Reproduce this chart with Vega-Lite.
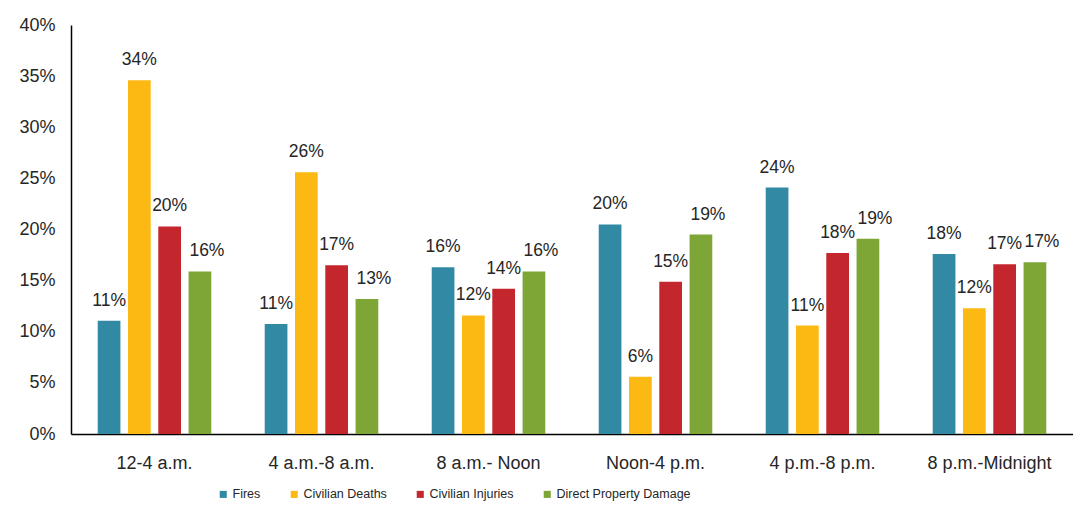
{
  "$schema": "https://vega.github.io/schema/vega-lite/v6.json",
  "autosize": {"type": "none"},
  "width": 1002,
  "height": 409,
  "padding": {"left": 71, "top": 25, "right": 0, "bottom": 72},
  "background": "white",
  "config": {
    "view": {"stroke": null},
    "font": "Liberation Sans",
    "axis": {"labelFont": "Liberation Sans", "labelColor": "#262626", "grid": false, "ticks": false, "domainColor": "#000000", "domainWidth": 1.5, "title": null}
  },
  "data": {
    "values": [
      {"period": "12-4 a.m.", "series": "Fires", "value": 0.1108, "label": "11%"},
      {"period": "12-4 a.m.", "series": "Civilian Deaths", "value": 0.346, "label": "34%"},
      {"period": "12-4 a.m.", "series": "Civilian Injuries", "value": 0.203, "label": "20%"},
      {"period": "12-4 a.m.", "series": "Direct Property Damage", "value": 0.159, "label": "16%"},
      {"period": "4 a.m.-8 a.m.", "series": "Fires", "value": 0.1076, "label": "11%"},
      {"period": "4 a.m.-8 a.m.", "series": "Civilian Deaths", "value": 0.256, "label": "26%"},
      {"period": "4 a.m.-8 a.m.", "series": "Civilian Injuries", "value": 0.165, "label": "17%"},
      {"period": "4 a.m.-8 a.m.", "series": "Direct Property Damage", "value": 0.132, "label": "13%"},
      {"period": "8 a.m.- Noon", "series": "Fires", "value": 0.163, "label": "16%"},
      {"period": "8 a.m.- Noon", "series": "Civilian Deaths", "value": 0.116, "label": "12%"},
      {"period": "8 a.m.- Noon", "series": "Civilian Injuries", "value": 0.142, "label": "14%"},
      {"period": "8 a.m.- Noon", "series": "Direct Property Damage", "value": 0.159, "label": "16%"},
      {"period": "Noon-4 p.m.", "series": "Fires", "value": 0.205, "label": "20%"},
      {"period": "Noon-4 p.m.", "series": "Civilian Deaths", "value": 0.056, "label": "6%"},
      {"period": "Noon-4 p.m.", "series": "Civilian Injuries", "value": 0.149, "label": "15%"},
      {"period": "Noon-4 p.m.", "series": "Direct Property Damage", "value": 0.195, "label": "19%"},
      {"period": "4 p.m.-8 p.m.", "series": "Fires", "value": 0.241, "label": "24%"},
      {"period": "4 p.m.-8 p.m.", "series": "Civilian Deaths", "value": 0.106, "label": "11%"},
      {"period": "4 p.m.-8 p.m.", "series": "Civilian Injuries", "value": 0.177, "label": "18%"},
      {"period": "4 p.m.-8 p.m.", "series": "Direct Property Damage", "value": 0.191, "label": "19%"},
      {"period": "8 p.m.-Midnight", "series": "Fires", "value": 0.176, "label": "18%"},
      {"period": "8 p.m.-Midnight", "series": "Civilian Deaths", "value": 0.123, "label": "12%"},
      {"period": "8 p.m.-Midnight", "series": "Civilian Injuries", "value": 0.166, "label": "17%"},
      {"period": "8 p.m.-Midnight", "series": "Direct Property Damage", "value": 0.168, "label": "17%"}
    ]
  },
  "encoding": {
    "x": {
      "field": "period", "type": "nominal", "sort": null,
      "scale": {"paddingInner": 0.32, "paddingOuter": 0.16},
      "axis": {"labelAngle": 0, "labelFontSize": 18, "labelPadding": 20}
    },
    "xOffset": {
      "field": "series", "type": "nominal",
      "sort": ["Fires", "Civilian Deaths", "Civilian Injuries", "Direct Property Damage"],
      "scale": {"paddingInner": 0.25}
    },
    "y": {
      "field": "value", "type": "quantitative",
      "scale": {"domain": [0, 0.4]},
      "axis": {"format": ".0%", "values": [0, 0.05, 0.1, 0.15, 0.2, 0.25, 0.3, 0.35, 0.4], "labelOverlap": false, "labelFontSize": 18, "labelPadding": 16}
    }
  },
  "layer": [
    {
      "mark": {"type": "bar"},
      "encoding": {
        "color": {
          "field": "series", "type": "nominal",
          "sort": ["Fires", "Civilian Deaths", "Civilian Injuries", "Direct Property Damage"],
          "scale": {
            "domain": ["Fires", "Civilian Deaths", "Civilian Injuries", "Direct Property Damage"],
            "range": ["#3289A3", "#FDB913", "#C4262E", "#7EA637"]
          },
          "legend": {
            "title": null,
            "orient": "none",
            "legendX": 146,
            "legendY": 463,
            "direction": "horizontal",
            "symbolType": "square",
            "symbolSize": 50,
            "symbolStrokeWidth": 0,
            "labelFontSize": 12.5,
            "labelColor": "#262626",
            "labelFont": "Liberation Sans",
            "labelOffset": 3,
            "columnPadding": 27
          }
        }
      }
    },
    {
      "mark": {"type": "text", "fontSize": 17.5, "color": "#262626", "baseline": "middle", "dy": -20, "dx": {"expr": "datum.series === 'Direct Property Damage' ? 7 : 0"}},
      "encoding": {"text": {"field": "label"}}
    }
  ]
}
